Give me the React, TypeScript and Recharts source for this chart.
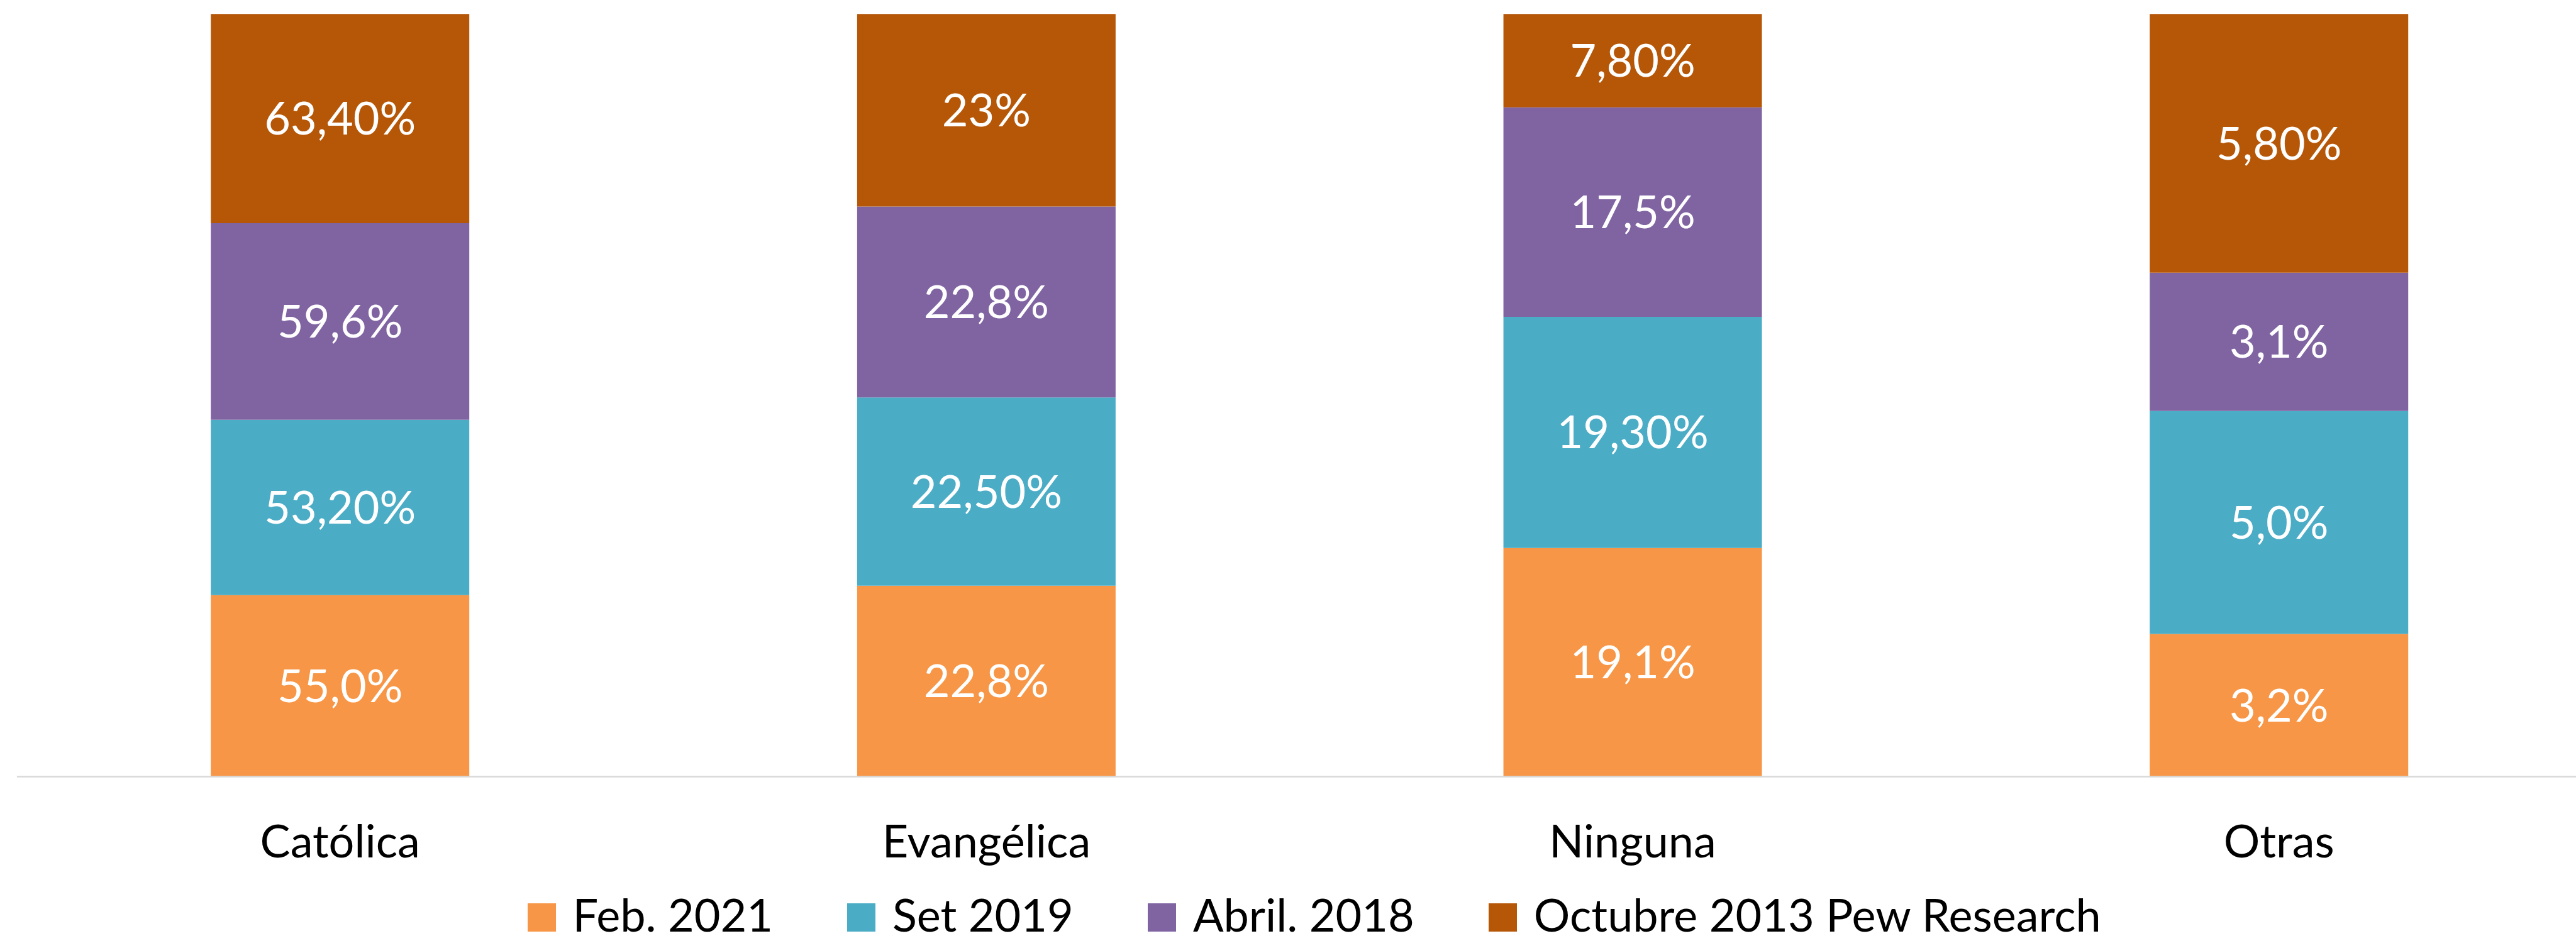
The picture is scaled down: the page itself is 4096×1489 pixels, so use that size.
import React from 'react';
import { BarChart, Bar, XAxis, YAxis, Legend, LabelList } from 'recharts';

const categories = ['Católica', 'Evangélica', 'Ninguna', 'Otras'];

const feb2021 = [55.0, 22.8, 19.1, 3.2];
const set2019 = [53.2, 22.5, 19.3, 5.0];
const abril2018 = [59.6, 22.8, 17.5, 3.1];
const oct2013 = [63.4, 23, 7.8, 5.8];

const feb2021Labels = ['55,0%', '22,8%', '19,1%', '3,2%'];
const set2019Labels = ['53,20%', '22,50%', '19,30%', '5,0%'];
const abril2018Labels = ['59,6%', '22,8%', '17,5%', '3,1%'];
const oct2013Labels = ['63,40%', '23%', '7,80%', '5,80%'];

const seriesNames = ['Feb. 2021', 'Set 2019', 'Abril. 2018', 'Octubre 2013 Pew Research'];
const seriesColors = ['#F79646', '#4BACC6', '#8064A2', '#B65708'];

const data = categories.map((c, i) => ({
  cat: c,
  feb: feb2021[i],
  set: set2019[i],
  abr: abril2018[i],
  oct: oct2013[i],
  febL: feb2021Labels[i],
  setL: set2019Labels[i],
  abrL: abril2018Labels[i],
  octL: oct2013Labels[i],
}));

const FONT = 'Lato, "Open Sans", sans-serif';
const FS = 72;

const CatTick = (props: any) => {
  const { x, y, payload } = props;
  return (
    <text x={x} y={y + 128.6} textAnchor="middle" fill="#000" fontSize={FS} fontFamily={FONT}>
      {payload.value}
    </text>
  );
};

const LegendContent = () => (
  <div style={{ display: 'flex', alignItems: 'baseline', fontFamily: FONT, fontSize: FS, lineHeight: 0.85, color: '#000', whiteSpace: 'nowrap' }}>
    {seriesNames.map((n, i) => (
      <div key={n} style={{ display: 'flex', alignItems: 'baseline', marginRight: i < seriesNames.length - 1 ? 118 : 0 }}>
        <span style={{ display: 'inline-block', width: 45, height: 45, background: seriesColors[i], marginRight: 27 }} />
        <span>{n}</span>
      </div>
    ))}
  </div>
);

const keys = ['feb', 'set', 'abr', 'oct'];

export default function App() {
  return (
    <div style={{ position: 'absolute', left: 0, top: 0, width: 4096, height: 1489, overflow: 'hidden', background: '#fff', fontFamily: FONT }}>
      <BarChart
        width={4140}
        height={1489}
        data={data}
        stackOffset="expand"
        barCategoryGap="30%"
        margin={{ top: 22.2, right: 2.4, left: 26.9, bottom: 133.5 }}
      >
        <XAxis
          dataKey="cat"
          height={120}
          tickLine={false}
          tickSize={0}
          tickMargin={0}
          axisLine={{ stroke: '#D9D9D9', strokeWidth: 2.5 }}
          tick={<CatTick />}
          interval={0}
        />
        <YAxis hide domain={[0, 1]} />
        <Legend
          layout="horizontal"
          verticalAlign="middle"
          align="center"
          content={<LegendContent />}
          wrapperStyle={{ top: 1424.1, left: 838.6, width: 'auto', height: 'auto' }}
        />
        {keys.map((k, i) => (
          <Bar key={k} dataKey={k} name={seriesNames[i]} stackId="a" fill={seriesColors[i]} isAnimationActive={false}>
            <LabelList dataKey={k + 'L'} position="center" fill="#fff" fontSize={FS} fontFamily={FONT} />
          </Bar>
        ))}
      </BarChart>
    </div>
  );
}
